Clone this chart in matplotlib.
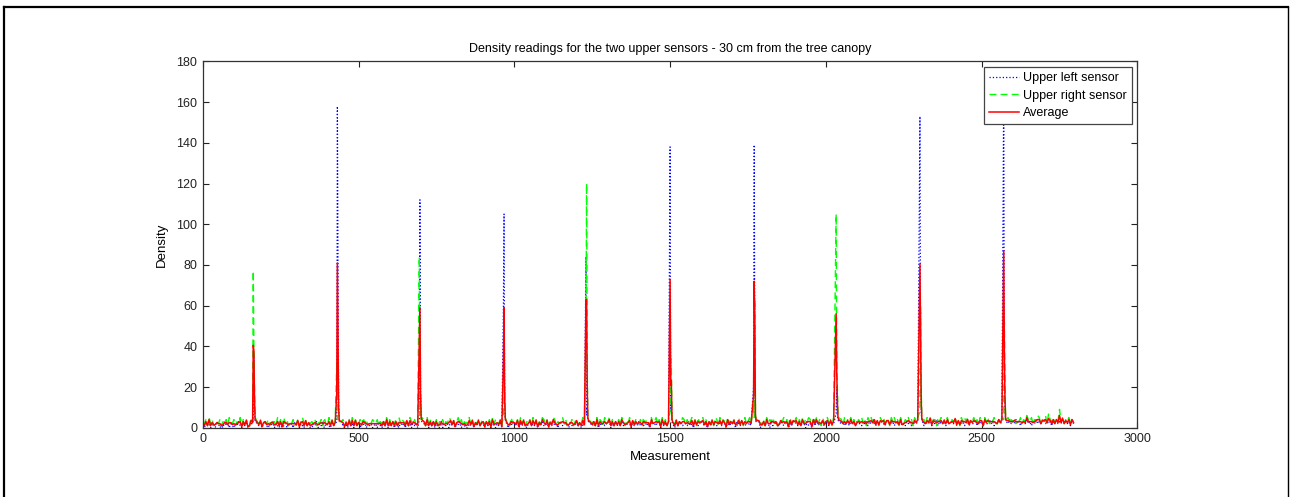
import numpy as np
import matplotlib.pyplot as plt
from matplotlib.lines import Line2D

# background readings, one digit per 5 measurements (estimated off the plot)
left_base = ["1021301203", "2010312021", "0213102130", "1203021302", "3102130210",
             "2013021203", "1302103120", "0213021302", "2103120213", "1020312031",
             "3021302120", "1203102130", "2130210312", "0312031202", "1021302130",
             "2103021203", "1302130210", "0213021312", "2031203102", "1302130213",
             "2130213102", "3121302131", "1302131203", "2131203121", "3120213032",
             "1213021312", "2302131213", "1213203121", "3121312032", "2132031213",
             "1320313212", "2131203213", "3212031321", "1321320312", "2303213212",
             "3121321302", "2132031321", "1321320213", "3212132031", "2031321321",
             "3213221312", "2312313221", "3221323132", "2313223213", "3223132231",
             "2132313223", "3231322413", "2413223132", "3224132231", "2313224132",
             "3132242313", "2423132242", "3242313224", "2313242323", "4232313242",
             "3242323142"]
right_base = ["3241524132", "2413241532", "4132514241", "1524132413", "3241423152",
              "4152413241", "2413524132", "3241324152", "1524132413", "4132415241",
              "2415241324", "3241324152", "4132415243", "2415324132", "3241524132",
              "4132413254", "2413524132", "3524132413", "4132415243", "2415243152",
              "3241524132", "4152413254", "2413254132", "3524132413", "4132524143",
              "2415243152", "3524132415", "4132514243", "2415243152", "3524152413",
              "4152413254", "2413524152", "3524132415", "4152431524", "2431524152",
              "3524152431", "4152435241", "2435241524", "3524152435", "4153524152",
              "3524153524", "4152435241", "2435241535", "3524153524", "4153524152",
              "2435241535", "3524153524", "4153524352", "2435241535", "3524352415",
              "4153524352", "2435263524", "3524352436", "4352436524", "3627435243",
              "9352435243"]

# peaks: where they sit and the readings around them
peak_pos = [162, 432, 697, 967, 1232, 1502, 1770, 2035, 2304, 2573]
peak_offsets = [-2, 0, 2, 4, 6]
left_peaks = [[2, 4, 36, 8, 3], [3, 158, 90, 12, 4], [4, 112, 18, 6, 3],
              [60, 105, 10, 4, 3], [84, 6, 10, 4, 3], [138, 8, 16, 3, 2],
              [20, 139, 30, 6, 3], [7, 20, 6, 4, 3], [153, 36, 8, 4, 3],
              [170, 20, 8, 4, 3]]
right_peaks = [[3, 77, 40, 20, 5], [31, 4, 6, 8, 3], [84, 6, 16, 4, 5],
               [6, 13, 20, 5, 4], [42, 120, 30, 6, 4], [8, 34, 30, 5, 4],
               [12, 5, 63, 6, 4], [105, 33, 20, 6, 5], [8, 59, 20, 5, 4],
               [4, 52, 20, 5, 4]]


def build(base, peaks):
    vals = np.array([int(c) for c in "".join(base)], dtype=float)
    xs = np.arange(len(vals)) * 5
    keep = np.ones(len(xs), dtype=bool)
    for p in peak_pos:
        keep &= ~((xs >= p - 6) & (xs <= p + 10))
    xx = list(xs[keep])
    yy = list(vals[keep])
    for p, pk in zip(peak_pos, peaks):
        for o, v in zip(peak_offsets, pk):
            xx.append(p + o)
            yy.append(v)
    order = np.argsort(xx)
    return np.array(xx)[order], np.array(yy)[order]


x, left = build(left_base, left_peaks)
_, right = build(right_base, right_peaks)
avg = (left + right) / 2

plt.rcParams['font.family'] = ['Liberation Sans', 'DejaVu Sans']
fig = plt.figure(figsize=(12.9, 4.97), dpi=100)
ax = fig.add_axes([0.1572, 0.1394, 0.7245, 0.737])

ax.plot(x, left, ':', color='#0000ff', lw=0.9, label='Upper left sensor')
ax.plot(x, right, '--', color='#00ff00', lw=1.0, dashes=(5, 3), label='Upper right sensor')
ax.plot(x, avg, '-', color='#ff0000', lw=1.1, label='Average')

ax.set_xlim(0, 3000)
ax.set_ylim(0, 180)
ax.set_xticks(np.arange(0, 3001, 500))
ax.set_yticks(np.arange(0, 181, 20))
ax.tick_params(direction='in', length=4, width=0.8, top=True, right=True,
               labelsize=9, colors='#222222', pad=4)
for s in ax.spines.values():
    s.set_color('#333333')
    s.set_linewidth(0.9)

ax.set_title('Density readings for the two upper sensors - 30 cm from the tree canopy',
             fontsize=9, pad=7)
ax.set_xlabel('Measurement', fontsize=9.5, labelpad=4)
ax.set_ylabel('Density', fontsize=9.5, labelpad=6)

leg = ax.legend(loc='upper right', fontsize=9, fancybox=False, framealpha=1,
                borderaxespad=0.45, handlelength=2.4, handletextpad=0.3,
                labelspacing=0.45, borderpad=0.4)
leg.get_frame().set_edgecolor('#444444')
leg.get_frame().set_linewidth(0.9)

# border round the figure
fig.add_artist(Line2D([0.0031, 0.0031], [0, 0.9869], transform=fig.transFigure,
                      color='black', lw=1.6))
fig.add_artist(Line2D([0.0031, 0.9985], [0.9869, 0.9869], transform=fig.transFigure,
                      color='black', lw=1.6))
fig.add_artist(Line2D([0.9985, 0.9985], [0, 0.9869], transform=fig.transFigure,
                      color='black', lw=1.0))

fig.savefig('out.png', dpi=100)
